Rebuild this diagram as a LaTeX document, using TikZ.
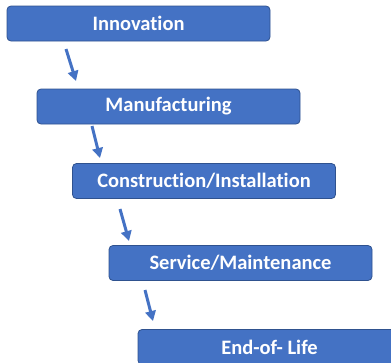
\documentclass[tikz,border=0pt]{standalone}
\usepackage{fontspec}
\setmainfont[Ligatures=NoCommon]{Carlito}
\usetikzlibrary{arrows.meta,positioning}
\definecolor{stageblue}{HTML}{4472C4}
\definecolor{stageedge}{HTML}{2F528F}

\begin{document}
\begin{tikzpicture}[
    x=1pt, y=-1pt,
    stage/.style={draw=stageedge, line width=0.8pt, fill=stageblue, rounded corners=4pt,
                  minimum width=263pt, minimum height=35pt, inner sep=0pt,
                  text=white, font=\fontsize{20.5}{22}\selectfont\bfseries},
    flow/.style={-{Triangle[length=10pt,width=10.5pt]}, line width=3pt, draw=stageblue},
  ]
  \useasboundingbox (0,0) rectangle (391,362);

  % stages
  \node[stage] (inno) at (138.5,23.5) {Innovation};
  \node[stage] (manu) at (168.5,106.5) {Manufacturing};
  \node[stage] (cons) at (204,181) {Construction/Installation};
  \node[stage] (serv) at (240.5,263) {Service/Maintenance};
  \node[stage] (eol) at (269.5,347) {End-of- Life};

  % arrow ends
  \coordinate (a1) at (66,49);   \coordinate (b1) at (76,81);
  \coordinate (a2) at (92,126);  \coordinate (b2) at (100,158);
  \coordinate (a3) at (120,209); \coordinate (b3) at (129,241);
  \coordinate (a4) at (145,290); \coordinate (b4) at (153,321);

  \draw[flow] (a1) -- (b1);
  \draw[flow] (a2) -- (b2);
  \draw[flow] (a3) -- (b3);
  \draw[flow] (a4) -- (b4);
\end{tikzpicture}
\end{document}
